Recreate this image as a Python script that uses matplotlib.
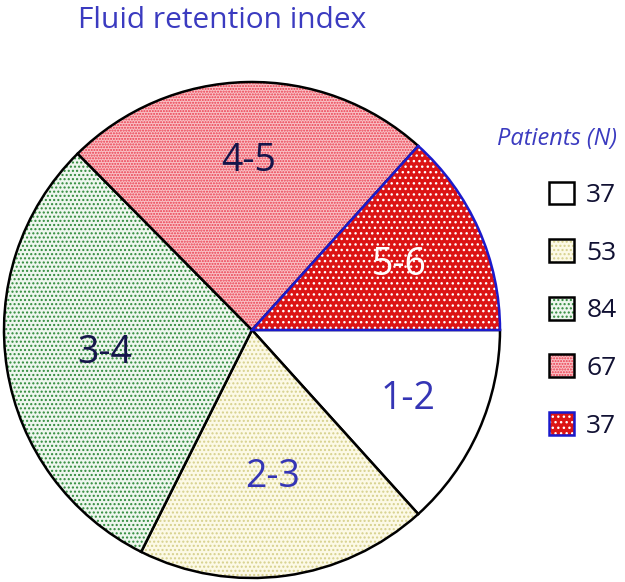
import numpy as np
import matplotlib
matplotlib.use("Agg")
import matplotlib.pyplot as plt
from matplotlib.colors import to_rgba

# data
groups = ["1-2", "2-3", "3-4", "4-5", "5-6"]
patients = [37, 53, 84, 67, 37]

# styling per slice
face_colors = ["#ffffff", "#fcf9e6", "#eef6ee", "#f9c2c6", "#dc1414"]
hatch_colors = ["#ffffff", "#d6d08c", "#2f8a3a", "#ea3a4c", "#ffffff"]
hatches = [None, "....", "....", "......", "..."]
edge_colors = ["#000000", "#000000", "#000000", "#000000", "#1a1acc"]
label_colors = ["#3535b5", "#3535b5", "#15154a", "#15154a", "#ffffff"]
label_r = [0.69, 0.60, 0.60, 0.68, 0.65]

plt.rcParams["font.family"] = ["Open Sans", "DejaVu Sans"]
plt.rcParams["hatch.linewidth"] = 1.0

fig = plt.figure(figsize=(6.25, 5.82), dpi=100)
ax = fig.add_axes([0, 0, 1, 1])

cx, cy, R = 252, 330, 248
wedges, _ = ax.pie(patients, center=(cx, cy), radius=R, startangle=0,
                   counterclock=True, frame=True,
                   wedgeprops=dict(linewidth=1.8))

for w, fc, hc, h, ec, lc, lr, g in zip(wedges, face_colors, hatch_colors, hatches,
                                        edge_colors, label_colors, label_r, groups):
    w.set_facecolor(fc)
    w.set_edgecolor(ec)
    if h:
        w.set_hatch(h)
    w._hatch_color = to_rgba(hc)
    mid = np.deg2rad((w.theta1 + w.theta2) / 2)
    ax.text(cx + lr * R * np.cos(mid), cy + lr * R * np.sin(mid), g,
            color=lc, fontsize=27, ha="center", va="center")

ax.set_xlim(0, 625)
ax.set_ylim(582, 0)
ax.set_aspect("equal")
ax.axis("off")

ax.text(222, 20, "Fluid retention index", color="#3b3bc0", fontsize=21.5,
        ha="center", va="center")

leg = ax.legend(wedges, [str(p) for p in patients], title="Patients (N)",
                loc="upper left", bbox_to_anchor=(486 / 625, 1 - 116 / 582),
                frameon=False, fontsize=19, handlelength=0.95, handleheight=0.95,
                labelspacing=1.18, handletextpad=0.45, borderaxespad=0,
                alignment="right")
leg.get_title().set_color("#3b3bc0")
leg.get_title().set_fontstyle("italic")
leg.get_title().set_fontsize(17)
for t in leg.get_texts():
    t.set_color("#111133")

fig.savefig("out.png", dpi=100)
